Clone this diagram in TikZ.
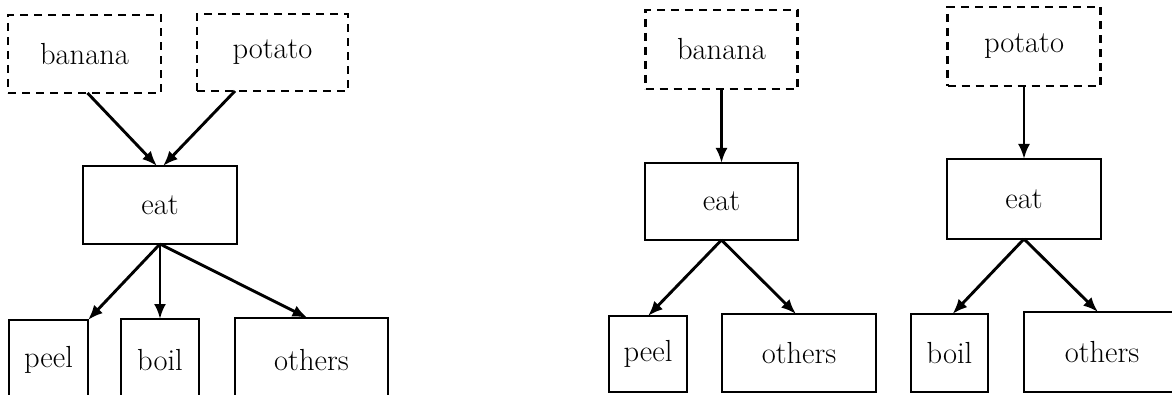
\documentclass[tikz,border=0pt]{standalone}
\usetikzlibrary{arrows.meta}
\begin{document}
\begin{tikzpicture}[x=1pt,y=-1pt,
  every node/.style={font=\fontsize{30.5}{36}\selectfont, inner sep=0pt, outer sep=0pt},
  box/.style={draw, line width=2.9pt, rectangle},
  dbox/.style={box, dash pattern=on 8pt off 6pt},
  conn/.style={line width=2.9pt, -{Latex[length=15pt,width=12pt]}}
]
\useasboundingbox (0,0) rectangle (1172,395);
\clip (0,0) rectangle (1172,395);
% left diagram
\node[dbox, minimum width=153pt, minimum height=78pt] (banL) at (84.5,54) {banana};
\node[dbox, minimum width=151pt, minimum height=77pt] (potL) at (272.5,52.5) {potato};
\node[box, minimum width=154pt, minimum height=78pt] (eatL) at (160,205) {eat};
\node[box, minimum width=79pt, minimum height=80pt] (peelL) at (48.5,360) {peel};
\node[box, minimum width=78pt, minimum height=82pt] (boilL) at (160,360) {boil};
\node[box, minimum width=153pt, minimum height=84pt] (othL) at (311.5,360) {others};
\draw[conn] ([xshift=3pt]banL.south) -- ([xshift=-3pt]eatL.north);
\draw[conn] ([xshift=38pt]potL.south west) -- ([xshift=3pt]eatL.north);
\draw[conn] (eatL.south) -- (peelL.north east);
\draw[conn] (eatL.south) -- (boilL.north);
\draw[conn] (eatL.south) -- ([xshift=-4pt]othL.north);
% right diagram
\node[dbox, minimum width=152pt, minimum height=79pt] (banR) at (721.5,49.5) {banana};
\node[dbox, minimum width=153pt, minimum height=79pt] (potR) at (1024,46.5) {potato};
\node[box, minimum width=153pt, minimum height=77pt] (eatR1) at (721.5,201.5) {eat};
\node[box, minimum width=154pt, minimum height=80pt] (eatR2) at (1024,199) {eat};
\node[box, minimum width=78pt, minimum height=76pt] (peelR) at (648,354) {peel};
\node[box, minimum width=154pt, minimum height=78pt] (othR1) at (799,353) {others};
\node[box, minimum width=77pt, minimum height=78pt] (boilR) at (949.5,353) {boil};
\node[box, minimum width=156pt, minimum height=80pt] (othR2) at (1102,352) {others};
\draw[conn] (banR.south) -- (eatR1.north);
\draw[conn] (potR.south) -- (eatR2.north);
\draw[conn] (eatR1.south) -- (peelR.north);
\draw[conn] (eatR1.south) -- ([xshift=-3pt]othR1.north);
\draw[conn] (eatR2.south) -- ([xshift=3pt]boilR.north);
\draw[conn] (eatR2.south) -- ([xshift=-4pt]othR2.north);
\end{tikzpicture}
\end{document}
